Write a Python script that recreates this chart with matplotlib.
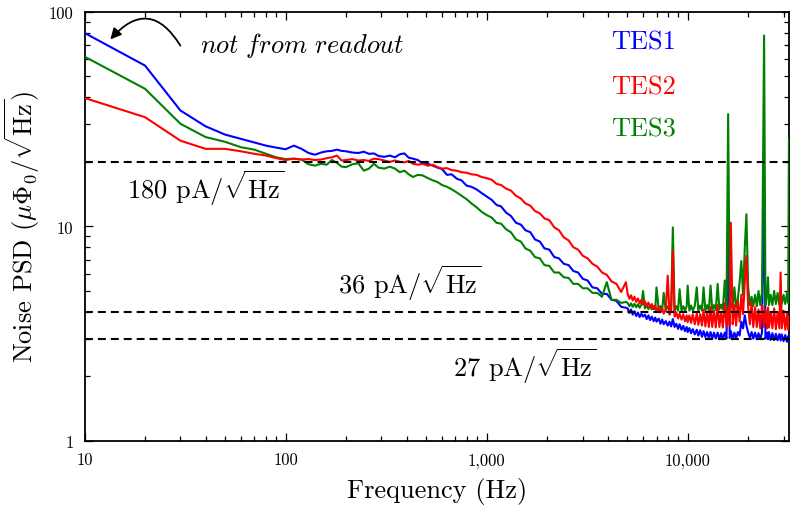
import matplotlib
matplotlib.use('Agg')
import matplotlib.pyplot as plt
from matplotlib.ticker import LogLocator, NullFormatter

plt.rcParams['font.family'] = 'serif'
plt.rcParams['font.serif'] = ['cmr10']
plt.rcParams['mathtext.fontset'] = 'cm'
plt.rcParams['axes.unicode_minus'] = False
plt.rcParams['axes.formatter.use_mathtext'] = True

# ---------------- data ----------------
freq = [10, 20, 30, 40, 50, 60, 70, 80, 90, 100,
        110, 120, 130, 140, 150, 160, 170, 180, 190, 200,
        215, 230, 245, 260, 275, 290, 310, 330, 350, 370,
        390, 410, 430, 455, 480, 510, 540, 570, 600, 635,
        670, 710, 750, 795, 840, 890, 945, 1000,
        1060, 1120, 1180, 1250, 1320, 1400, 1480, 1560, 1650, 1740,
        1840, 1940, 2050, 2170, 2290, 2420, 2560, 2700, 2850, 3010,
        3180, 3360, 3550, 3750, 3960, 4180, 4420, 4670, 4930,
        5030, 5130, 5230, 5330, 5440, 5550, 5660, 5770, 5890, 6000,
        6130, 6250, 6380, 6500, 6630, 6770, 6900, 7000, 7180, 7320,
        7470, 7600, 7780, 7960, 8120, 8280, 8440, 8610, 8780, 8960,
        9120, 9320, 9510, 9700, 9890, 10000, 10200, 10400, 10600, 10850,
        11100, 11300, 11550, 11780, 12000, 12250, 12500, 12750, 13000, 13250,
        13520, 13800, 14100, 14380, 14670, 14960, 15300, 15600, 15900, 16200,
        16400, 16750, 17080, 17420, 17770, 18130, 18490, 18860, 19240, 19600,
        20000, 20400, 20800, 21200, 21650, 22080, 22520, 22970, 23430, 24000,
        24380, 24870, 25100, 25370, 25880, 26400, 26930, 27470, 28020, 28580,
        29000, 29400, 29990, 30590, 31200, 31600, 31900]

tes1 = [79.8, 56.2, 34.7, 29.3, 26.8, 25.6, 24.6, 23.8, 23.3, 22.9,
        23.8, 23.0, 22.0, 21.6, 22.1, 22.4, 22.5, 22.8, 22.5, 22.4,
        22.1, 22.0, 22.3, 21.8, 21.9, 21.3, 21.1, 21.4, 21.0, 21.7,
        21.9, 20.9, 20.7, 20.4, 19.7, 19.6, 19.2, 18.8, 18.5, 17.4,
        17.5, 16.7, 16.4, 15.5, 15.3, 14.9, 14.3, 13.8,
        13.3, 12.6, 12.4, 11.6, 11.2, 10.4, 10.2, 9.6, 9.4, 8.7,
        8.5, 7.9, 7.8, 7.2, 7.1, 6.7, 6.6, 6.2, 6.1, 5.7,
        5.6, 5.2, 5.15, 4.85, 4.85, 4.55, 4.5, 4.22, 4.18,
        4.15, 3.95, 4.10, 3.88, 4.02, 3.82, 3.97, 3.78, 3.92, 3.80,
        3.88, 3.70, 3.85, 3.66, 3.80, 3.62, 3.76, 3.60, 3.72, 3.52,
        3.68, 3.50, 3.62, 3.45, 3.60, 3.42, 3.70, 3.40, 3.52, 3.33,
        3.50, 3.30, 3.44, 3.25, 3.40, 3.22, 3.36, 3.18, 3.32, 3.14,
        3.30, 3.10, 3.28, 3.06, 3.25, 3.05, 3.22, 3.02, 3.22, 3.00,
        3.20, 3.00, 3.20, 2.98, 3.18, 2.98, 3.20, 3.00, 9.0, 3.02,
        3.25, 2.98, 3.20, 3.00, 3.22, 3.10, 3.60, 3.35, 3.85, 3.45,
        3.20, 3.02, 3.22, 3.00, 3.20, 2.98, 3.18, 2.98, 3.20, 15.5,
        3.00, 3.20, 2.98, 3.22, 2.96, 3.18, 2.95, 3.16, 2.95, 3.15,
        2.94, 3.14, 2.92, 3.12, 2.90, 3.08, 2.88]

tes2 = [39.7, 32.3, 25.1, 23.0, 23.0, 22.4, 21.8, 21.4, 20.8, 20.4,
        20.7, 20.5, 20.6, 20.4, 20.5, 20.8, 21.0, 21.4, 20.3, 20.4,
        20.6, 20.3, 20.4, 20.2, 20.7, 20.6, 20.3, 20.0, 20.3, 20.0,
        19.9, 20.2, 19.6, 19.4, 19.6, 19.2, 19.4, 18.9, 18.6, 18.7,
        18.3, 18.2, 17.9, 17.8, 17.5, 17.4, 17.0, 16.8,
        16.5, 15.8, 15.6, 15.0, 14.7, 13.9, 13.5, 12.8, 12.5, 11.8,
        11.5, 10.9, 10.7, 9.9, 9.6, 8.9, 8.6, 8.0, 7.8, 7.3,
        7.1, 6.7, 6.5, 6.1, 5.95, 5.55, 5.4, 4.95, 5.5,
        4.85, 4.60, 4.78, 4.52, 4.70, 4.45, 4.62, 4.38, 4.55, 4.32,
        4.48, 4.25, 4.42, 4.18, 4.35, 4.12, 4.28, 4.05, 4.22, 3.98,
        4.15, 3.92, 4.10, 5.9, 3.88, 4.05, 7.7, 3.80, 3.98, 3.72,
        3.92, 3.68, 3.90, 3.62, 3.85, 3.58, 3.85, 3.55, 3.90, 3.50,
        3.95, 3.48, 3.90, 3.45, 4.10, 3.42, 4.00, 3.40, 4.20, 3.40,
        4.05, 3.38, 4.30, 3.40, 4.00, 3.38, 4.40, 3.42, 4.20, 3.45,
        10.4, 3.50, 4.30, 3.45, 4.50, 3.60, 4.80, 3.90, 5.50, 7.3,
        4.20, 3.50, 4.40, 3.40, 4.20, 3.40, 4.10, 3.35, 4.30, 3.40,
        4.10, 3.35, 4.20, 3.38, 4.00, 3.35, 4.15, 3.32, 4.00, 3.35,
        6.1, 3.35, 4.05, 3.30, 3.95, 3.30, 3.80]

tes3 = [61.9, 43.8, 30.1, 26.1, 24.8, 23.4, 22.8, 21.8, 21.0, 20.6,
        20.7, 20.5, 19.5, 19.2, 19.6, 19.4, 20.4, 19.8, 19.0, 18.9,
        19.5, 19.7, 18.2, 18.6, 19.6, 18.8, 18.6, 19.0, 18.6, 17.9,
        18.2, 17.5, 17.0, 17.4, 17.3, 16.8, 16.4, 16.1, 15.6, 15.3,
        14.9, 14.4, 13.9, 13.4, 12.8, 12.3, 11.7, 11.3,
        11.0, 10.4, 10.3, 9.7, 9.4, 8.7, 8.5, 7.9, 7.7, 7.2,
        7.1, 6.6, 6.55, 6.1, 6.1, 5.8, 5.75, 5.4, 5.4, 5.15,
        5.15, 4.9, 4.9, 4.7, 5.5, 4.55, 4.55, 4.4, 4.45,
        4.40, 4.25, 4.38, 4.22, 4.36, 4.20, 4.34, 4.18, 4.32, 5.00,
        4.15, 4.30, 4.12, 4.28, 4.10, 4.26, 4.10, 5.20, 4.08, 4.25,
        4.08, 4.90, 4.06, 4.24, 4.05, 4.22, 9.9, 4.05, 4.25, 4.05,
        5.10, 4.05, 4.25, 4.05, 4.25, 5.30, 4.05, 4.28, 4.05, 4.26,
        5.20, 4.05, 4.28, 4.05, 5.20, 4.05, 4.30, 4.05, 5.30, 4.08,
        4.30, 4.08, 5.40, 4.10, 4.32, 4.10, 5.60, 4.10, 33.4, 4.15,
        4.40, 4.15, 5.20, 4.20, 4.60, 5.50, 6.90, 4.80, 8.00, 11.4,
        5.20, 4.30, 4.70, 4.25, 4.80, 4.25, 5.00, 4.30, 4.90, 77.6,
        4.30, 4.90, 5.80, 4.30, 4.80, 4.30, 5.00, 4.35, 4.90, 4.30,
        5.00, 4.35, 4.80, 4.35, 4.90, 4.40, 25.6]

levels = [20, 4, 3]
level_labels = [r'180 pA/$\sqrt{\mathrm{Hz}}$', r'36 pA/$\sqrt{\mathrm{Hz}}$',
                r'27 pA/$\sqrt{\mathrm{Hz}}$']
series_names = ['TES1', 'TES2', 'TES3']
xticks = [10, 100, 1000, 10000]
xtick_labels = ['10', '100', '1,000', '10,000']
yticks = [1, 10, 100]
ytick_labels = ['1', '10', '100']

# ---------------- plot ----------------
fig = plt.figure(figsize=(7.9, 5.06), dpi=100)
ax = fig.add_axes([0.107, 0.1265, 0.892, 0.848])

colors = ['#0000ff', '#ff0000', '#008000']
ax.plot(freq, tes1, color=colors[0], lw=1.5, zorder=3)
ax.plot(freq, tes3, color=colors[2], lw=1.5, zorder=4)
ax.plot(freq, tes2, color=colors[1], lw=1.5, zorder=5)

for lv in levels:
    ax.axhline(lv, color='black', lw=1.5, ls=(0, (3.8, 2.4)), zorder=6)

ax.set_xscale('log')
ax.set_yscale('log')
ax.set_xlim(10, 32000)
ax.set_ylim(1, 100)

ax.set_xticks(xticks)
ax.set_xticklabels(xtick_labels)
ax.set_yticks(yticks)
ax.set_yticklabels(ytick_labels)
ax.xaxis.set_minor_locator(LogLocator(base=10, subs=range(2, 10), numticks=20))
ax.yaxis.set_minor_locator(LogLocator(base=10, subs=range(2, 10), numticks=20))
ax.xaxis.set_minor_formatter(NullFormatter())
ax.yaxis.set_minor_formatter(NullFormatter())

ax.tick_params(which='both', direction='in', top=True, right=True, width=0.9)
ax.tick_params(which='major', length=6, labelsize=12, pad=8)
ax.tick_params(which='minor', length=3.5)
for s in ax.spines.values():
    s.set_linewidth(1.3)

ax.set_xlabel('Frequency (Hz)', fontsize=19)
ax.set_ylabel(r'Noise PSD ($\mu\Phi_0/\sqrt{\mathrm{Hz}}$)', fontsize=19)
ax.xaxis.set_label_coords(0.5, -0.083)
ax.yaxis.set_label_coords(-0.06, 0.5)

# level annotations
ax.text(0.0603, 0.592, level_labels[0], transform=ax.transAxes, fontsize=19,
        ha='left', va='center')
ax.text(0.360, 0.371, level_labels[1], transform=ax.transAxes, fontsize=19,
        ha='left', va='center')
ax.text(0.523, 0.177, level_labels[2], transform=ax.transAxes, fontsize=19,
        ha='left', va='center')

# series labels
for name, c, y in zip(series_names, colors, [0.930, 0.825, 0.727]):
    ax.text(0.747, y, name, transform=ax.transAxes, fontsize=19, color=c,
            ha='left', va='center')

# "not from readout" note with curved arrow
ax.text(0.164, 0.924, r'$\mathit{not\ from\ readout}$', transform=ax.transAxes,
        fontsize=19, ha='left', va='center')
ax.annotate('', xy=(0.034, 0.931), xycoords='axes fraction',
            xytext=(0.138, 0.916), textcoords='axes fraction',
            arrowprops=dict(arrowstyle='-|>', color='black', lw=1.3,
                            mutation_scale=16,
                            connectionstyle='arc3,rad=0.7'))

fig.savefig('out.png', dpi=100)
